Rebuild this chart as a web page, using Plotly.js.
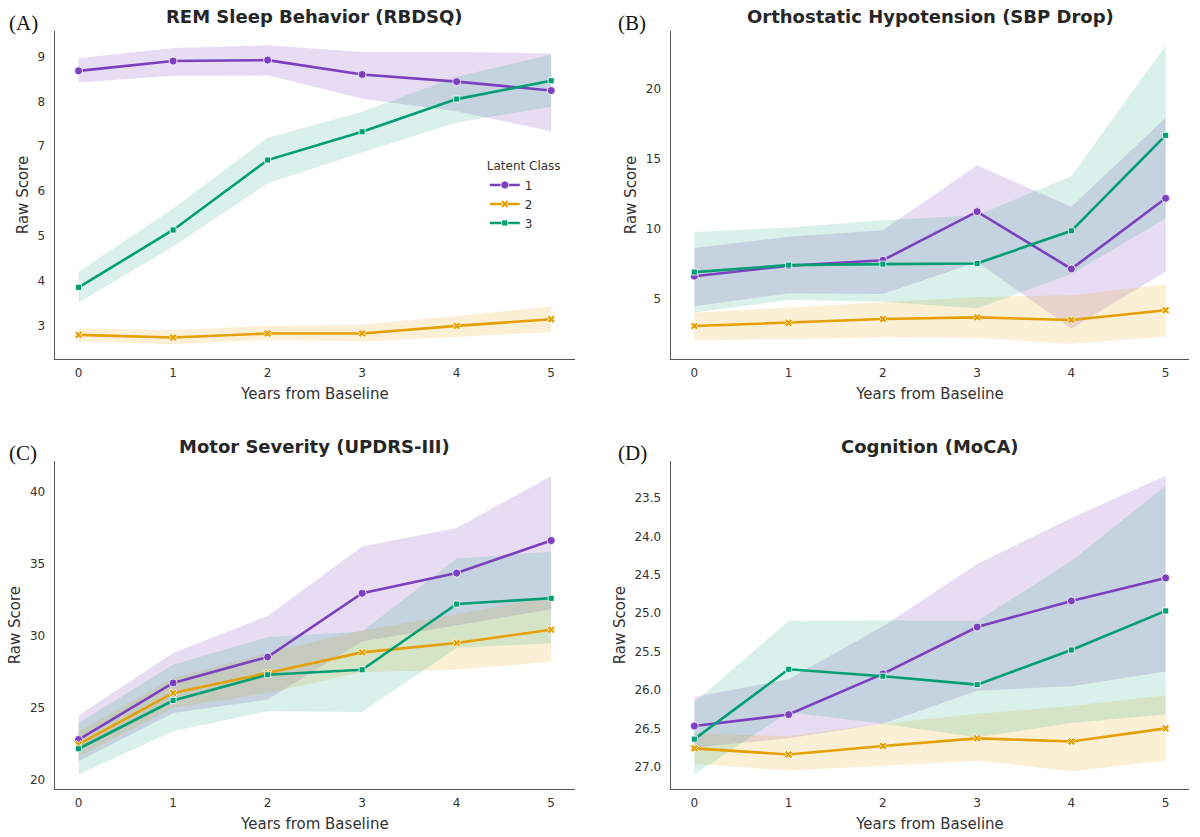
<!DOCTYPE html>
<html>
<head>
<meta charset="utf-8">
<script src="https://cdn.plot.ly/plotly-3.0.1.min.js"></script>
<style>
  html, body { margin:0; padding:0; background:#fff; }
  #chartdiv { width:1200px; height:837px; }
</style>
</head>
<body>
<div id="chartdiv"></div>
<script>
// x values shared by all panels
const years = [0, 1, 2, 3, 4, 5];
const classNames = ['1', '2', '3'];

// (A) REM sleep behaviour, RBDSQ  -- one row per latent class
const rbdsqMean = [[8.68, 8.90, 8.92, 8.60, 8.44, 8.24],
                   [2.79, 2.73, 2.82, 2.82, 2.99, 3.14],
                   [3.85, 5.13, 6.69, 7.32, 8.05, 8.46]];
const rbdsqLow  = [[8.42, 8.57, 8.58, 8.06, 7.78, 7.33],
                   [2.64, 2.58, 2.68, 2.64, 2.75, 2.85],
                   [3.51, 4.76, 6.17, 6.86, 7.53, 7.88]];
const rbdsqHigh = [[8.96, 9.19, 9.25, 9.10, 9.10, 9.07],
                   [2.94, 2.90, 2.99, 3.02, 3.21, 3.43],
                   [4.20, 5.61, 7.19, 7.77, 8.55, 9.04]];

// (B) orthostatic hypotension, SBP drop
const sbpMean = [[6.64, 7.38, 7.78, 11.25, 7.16, 12.20],
                 [3.08, 3.31, 3.58, 3.70, 3.51, 4.21],
                 [6.93, 7.43, 7.50, 7.55, 9.88, 16.70]];
const sbpLow  = [[4.50, 5.41, 5.36, 7.66, 2.91, 6.95],
                 [2.08, 2.13, 2.27, 2.24, 1.79, 2.34],
                 [4.05, 4.93, 4.81, 4.34, 6.80, 10.75]];
const sbpHigh = [[8.66, 9.45, 9.92, 14.56, 11.59, 17.96],
                 [4.03, 4.41, 4.81, 5.16, 5.28, 6.07],
                 [9.80, 10.11, 10.63, 10.99, 13.80, 23.11]];

// (C) motor severity, UPDRS-III
const updrsMean = [[22.81, 26.73, 28.53, 32.95, 34.35, 36.60],
                   [22.47, 26.04, 27.42, 28.85, 29.50, 30.42],
                   [22.17, 25.51, 27.30, 27.65, 32.20, 32.60]];
const updrsLow  = [[21.31, 24.65, 25.58, 29.61, 30.74, 31.84],
                   [21.61, 25.00, 26.04, 27.47, 27.65, 28.20],
                   [20.39, 23.39, 24.77, 24.72, 29.15, 29.49]];
const updrsHigh = [[24.47, 28.80, 31.38, 36.18, 37.47, 41.06],
                   [23.39, 27.07, 28.80, 30.37, 31.47, 32.76],
                   [23.96, 28.00, 29.91, 30.30, 35.35, 35.83]];

// (D) cognition, MoCA (axis is inverted)
const mocaMean = [[26.47, 26.32, 25.79, 25.18, 24.84, 24.54],
                  [26.76, 26.84, 26.73, 26.63, 26.67, 26.50],
                  [26.64, 25.73, 25.82, 25.93, 25.48, 24.97]];
const mocaLow  = [[26.75, 26.63, 26.44, 26.01, 25.95, 25.76],
                  [26.96, 27.05, 26.99, 26.92, 27.06, 26.92],
                  [27.10, 26.29, 26.44, 26.62, 26.43, 26.32]];
const mocaHigh = [[26.09, 25.86, 25.17, 24.36, 23.76, 23.21],
                  [26.57, 26.60, 26.44, 26.31, 26.21, 26.07],
                  [26.16, 25.10, 25.09, 25.10, 24.32, 23.34]];

const panelTitles = ['REM Sleep Behavior (RBDSQ)', 'Orthostatic Hypotension (SBP Drop)',
                     'Motor Severity (UPDRS-III)', 'Cognition (MoCA)'];
const panelLetters = ['(A)', '(B)', '(C)', '(D)'];

const lineColors = ['#7b3fbf', '#e69f00', '#009e73'];
const bandColors = ['rgba(123,63,191,0.18)', 'rgba(230,159,0,0.16)', 'rgba(0,158,115,0.15)'];
const markerSymbols = ['circle', 'x', 'square'];
const markerSizes = [8, 7, 6];

const font = 'DejaVu Sans, sans-serif';

function addPanel(traces, xa, ya, mean, low, high, showLegend){
  // confidence bands first so the lines sit on top
  for (let k = 0; k < 3; k++){
    traces.push({
      x: years.concat(years.slice().reverse()),
      y: high[k].concat(low[k].slice().reverse()),
      xaxis: xa, yaxis: ya,
      mode: 'lines', fill: 'toself', fillcolor: bandColors[k],
      line: {width: 0}, hoverinfo: 'skip', showlegend: false
    });
  }
  for (let k = 0; k < 3; k++){
    traces.push({
      x: years, y: mean[k],
      xaxis: xa, yaxis: ya,
      mode: 'lines+markers', name: classNames[k],
      line: {color: lineColors[k], width: 2.6},
      marker: {symbol: markerSymbols[k], size: markerSizes[k], color: lineColors[k],
               line: {color: 'white', width: 0.8}},
      showlegend: showLegend
    });
  }
}

const traces = [];
addPanel(traces, 'x',  'y',  rbdsqMean, rbdsqLow, rbdsqHigh, true);
addPanel(traces, 'x2', 'y2', sbpMean,   sbpLow,   sbpHigh,   false);
addPanel(traces, 'x3', 'y3', updrsMean, updrsLow, updrsHigh, false);
addPanel(traces, 'x4', 'y4', mocaMean,  mocaLow,  mocaHigh,  false);

function xAxis(domain, anchor){
  return {
    domain: domain, anchor: anchor,
    range: [-0.25, 5.25], tickvals: years,
    showline: true, linecolor: '#555', linewidth: 1.3,
    showgrid: false, zeroline: false, ticks: '',
    ticklabelstandoff: 2,
    tickfont: {family: font, size: 12, color: '#333'},
    title: {text: 'Years from Baseline', font: {family: font, size: 15, color: '#333'}, standoff: 9}
  };
}
function yAxis(domain, anchor, range, tickvals, fmt){
  return {
    domain: domain, anchor: anchor,
    range: range, tickvals: tickvals, tickformat: fmt,
    showline: true, linecolor: '#555', linewidth: 1.3,
    showgrid: false, zeroline: false, ticks: '',
    ticklabelstandoff: 6,
    tickfont: {family: font, size: 12, color: '#333'},
    title: {text: 'Raw Score', font: {family: font, size: 15, color: '#333'}, standoff: 5}
  };
}

const leftDom = [0.0458, 0.479];
const rightDom = [0.559, 0.991];
const topDom = [0.571, 0.963];
const botDom = [0.0573, 0.449];

const annotations = [];
const titlePos = [[0.262, 0.980], [0.775, 0.980], [0.262, 0.466], [0.775, 0.466]];
const letterPos = [[0.006, 0.972], [0.513, 0.972], [0.006, 0.459], [0.513, 0.459]];
for (let i = 0; i < 4; i++){
  annotations.push({
    text: panelTitles[i], xref: 'paper', yref: 'paper',
    x: titlePos[i][0], y: titlePos[i][1], xanchor: 'center', yanchor: 'middle',
    showarrow: false, font: {family: font, size: 18, color: '#262626', weight: 'bold'}
  });
  annotations.push({
    text: panelLetters[i], xref: 'paper', yref: 'paper',
    x: letterPos[i][0], y: letterPos[i][1], xanchor: 'left', yanchor: 'middle',
    showarrow: false, font: {family: 'Liberation Serif, Times New Roman, serif', size: 21, color: '#111'}
  });
}

const layout = {
  width: 1200, height: 837,
  margin: {l: 0, r: 0, t: 0, b: 0},
  paper_bgcolor: '#fff', plot_bgcolor: '#fff',
  font: {family: font, color: '#333'},
  xaxis:  xAxis(leftDom, 'y'),
  yaxis:  yAxis(topDom, 'x', [2.25, 9.57], [3, 4, 5, 6, 7, 8, 9], 'd'),
  xaxis2: xAxis(rightDom, 'y2'),
  yaxis2: yAxis(topDom, 'x2', [0.72, 24.15], [5, 10, 15, 20], 'd'),
  xaxis3: xAxis(leftDom, 'y3'),
  yaxis3: yAxis(botDom, 'x3', [19.38, 42.1], [20, 25, 30, 35, 40], 'd'),
  xaxis4: xAxis(rightDom, 'y4'),
  yaxis4: yAxis(botDom, 'x4', [27.29, 23.02], [23.5, 24, 24.5, 25, 25.5, 26, 26.5, 27], '.1f'),
  legend: {
    x: 0.404, y: 0.815, xanchor: 'left', yanchor: 'top',
    title: {text: 'Latent Class', side: 'top', font: {family: font, size: 12, color: '#333'}},
    font: {family: font, size: 12, color: '#333'},
    bgcolor: 'rgba(255,255,255,0)', itemwidth: 30, tracegroupgap: 0
  },
  showlegend: true,
  annotations: annotations
};

Plotly.newPlot(chartdiv, traces, layout, {displayModeBar: false, staticPlot: true});
</script>
</body>
</html>
